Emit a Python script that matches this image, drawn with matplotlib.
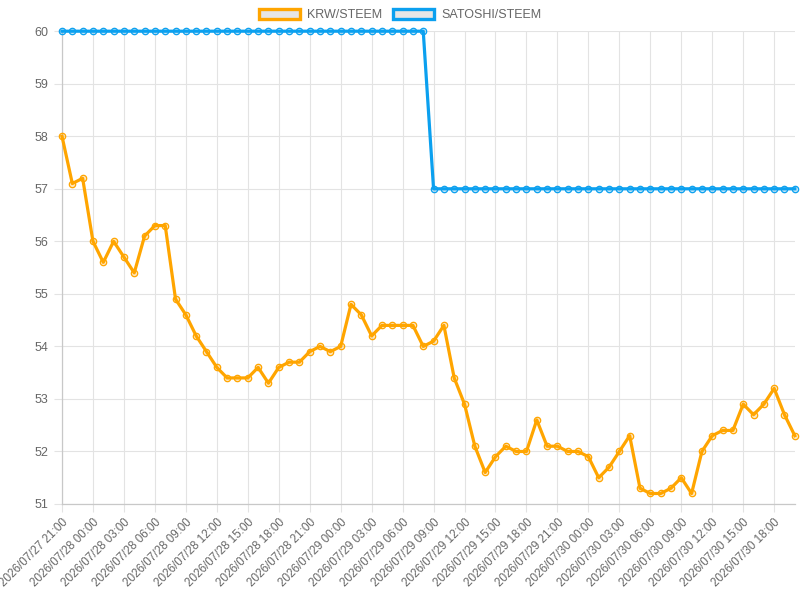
import matplotlib
matplotlib.use("Agg")
import matplotlib.pyplot as plt
import matplotlib.patches as mpatches
import pandas as pd

# hourly samples, 2026/07/27 21:00 .. 2026/07/30 20:00
times = pd.date_range("2026-07-27 21:00", periods=72, freq="h")

krw_steem = [
    58.0, 57.1, 57.2, 56.0, 55.6, 56.0, 55.7, 55.4, 56.1, 56.3, 56.3, 54.9,
    54.6, 54.2, 53.9, 53.6, 53.4, 53.4, 53.4, 53.6, 53.3, 53.6, 53.7, 53.7,
    53.9, 54.0, 53.9, 54.0, 54.8, 54.6, 54.2, 54.4, 54.4, 54.4, 54.4, 54.0,
    54.1, 54.4, 53.4, 52.9, 52.1, 51.6, 51.9, 52.1, 52.0, 52.0, 52.6, 52.1,
    52.1, 52.0, 52.0, 51.9, 51.5, 51.7, 52.0, 52.3, 51.3, 51.2, 51.2, 51.3,
    51.5, 51.2, 52.0, 52.3, 52.4, 52.4, 52.9, 52.7, 52.9, 53.2, 52.7, 52.3,
]
satoshi_steem = [60] * 36 + [57] * 36

series_names = ["KRW/STEEM", "SATOSHI/STEEM"]
colors = ["#ffa500", "#0ba0ef"]
fills = ["#ffa50040", "#0ba0ef40"]

plt.rcParams["font.family"] = ["Liberation Sans", "DejaVu Sans"]

fig = plt.figure(figsize=(8, 6), dpi=100)
ax = fig.add_axes([0.0775, 0.16, 0.916, 0.788])

x = list(range(len(times)))
for vals, col, fc in [(krw_steem, colors[0], fills[0]), (satoshi_steem, colors[1], fills[1])]:
    ax.plot(x, vals, color=col, lw=2.3, marker="o", ms=4.6, mfc=fc, mec=col,
            mew=0.9, clip_on=False, zorder=3)

ax.set_xlim(0, len(times) - 1)
ax.set_ylim(51, 60)
ax.set_yticks(range(51, 61))

tick_idx = x[::3]
tick_labels = [times[i].strftime("%Y/%m/%d %H:%M") for i in tick_idx]
ax.set_xticks(tick_idx)
ax.set_xticklabels(tick_labels, rotation=45, ha="right", va="top",
                   rotation_mode="anchor", fontsize=8.4)

ax.grid(True, color="#e3e3e3", lw=0.8)
ax.set_axisbelow(True)
for s in ["top", "right"]:
    ax.spines[s].set_visible(False)
for s in ["left", "bottom"]:
    ax.spines[s].set_color("#c8c8c8")
    ax.spines[s].set_linewidth(0.9)
ax.tick_params(axis="both", colors="#e3e3e3", labelcolor="#666666",
               labelsize=9, length=6, width=0.8)
ax.tick_params(axis="x", labelsize=8.4, pad=3)
ax.tick_params(axis="y", pad=4)

handles = [mpatches.Patch(facecolor="#e6e6e6", edgecolor=c, linewidth=2.4, label=n)
           for n, c in zip(series_names, colors)]
fig.legend(handles=handles, loc="center", bbox_to_anchor=(0.5, 0.975), ncol=2,
           frameon=False, fontsize=9, labelcolor="#666666", handlelength=3.3,
           handleheight=0.9, handletextpad=0.6, columnspacing=0.8)

fig.savefig("out.png", dpi=100)
